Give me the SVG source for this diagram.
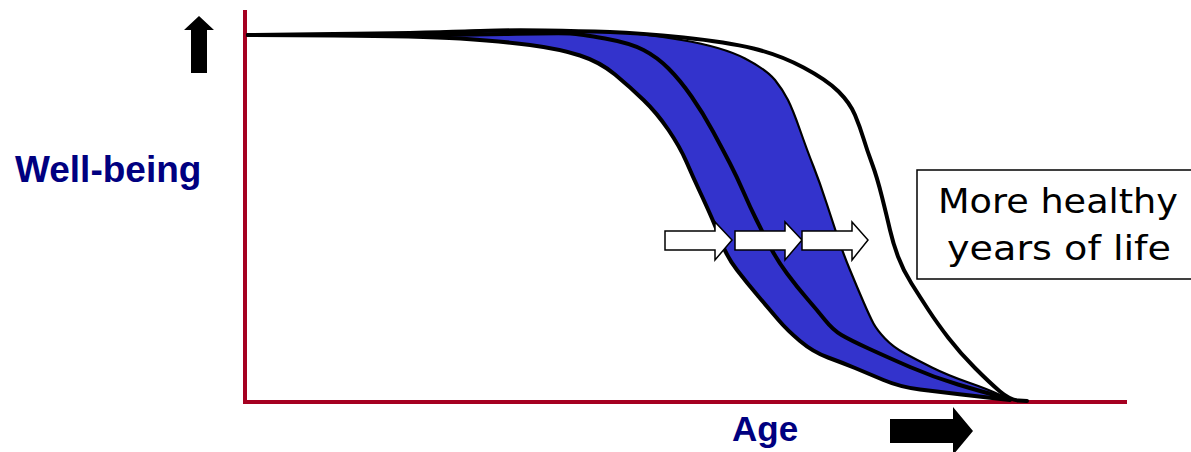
<svg xmlns="http://www.w3.org/2000/svg" width="1191" height="452" viewBox="0 0 1191 452">
<style>
.axis{stroke:#a50021;stroke-width:4;fill:none}
.curve{fill:none;stroke:#000;stroke-width:4;stroke-linejoin:round;stroke-linecap:round}
.thin{fill:none;stroke:#000;stroke-width:2.2;stroke-linejoin:round}
.band{fill:#3333cc;stroke:none}
.warrow{fill:#fff;stroke:#000;stroke-width:1.5;stroke-linejoin:miter}
.barrow{fill:#000;stroke:none}
.lbl{font-family:"Liberation Sans",Arial,sans-serif;font-weight:bold;fill:#000080}
.box{fill:#fff;stroke:#000;stroke-width:1.5}
.boxt{font-family:"DejaVu Sans",Verdana,sans-serif;font-size:33px;fill:#000}
</style>
<rect width="1191" height="452" fill="#fff"/>
<g id="axes">
<line class="axis" x1="245" y1="10" x2="245" y2="404"/>
<line class="axis" x1="243" y1="402" x2="1127" y2="402"/>
</g>
<g id="band">
<path class="band" d="M248,35 L334,35.5 Q420,36 460,38.5 Q500,41 530,45 Q560,49 580,55.5 Q600,62 615,74.5 Q630,87 643.5,100 Q657,113 668.5,130 Q680,147 686.5,162 Q693,177 700,192 Q707,207 712,218.5 Q717,230 722,243.5 Q727,257 737,270 Q747,283 758.5,296.5 Q770,310 778.5,320 Q787,330 800,341 Q813,352 828,357.5 Q843,363 855,368 Q867,373 883.5,380 Q900,387 920,389.5 Q940,392 961.5,394.5 Q983,397 996.5,398.5 L1010,400 L1000,395 Q990,390 968.5,382.5 Q947,375 932,367.5 Q917,360 905,353.5 Q893,347 885,338.5 Q877,330 873.5,323.5 Q870,317 863.5,302 Q857,287 850,270 Q843,253 838,238 Q833,223 826.5,203 Q820,183 813.5,166.5 Q807,150 800,130 Q793,110 788,100 Q783,90 775,80 Q767,70 745,58.5 Q723,47 681.5,40 Q640,33 610,32 Q580,31 545,30 Q510,29 465,31 Q420,33 334,34 L248,35 Z"/>
</g>
<g id="curves">
<path id="c-left" class="curve" d="M248,35 L334,35.5 Q420,36 460,38.5 Q500,41 530,45 Q560,49 580,55.5 Q600,62 615,74.5 Q630,87 643.5,100 Q657,113 668.5,130 Q680,147 686.5,162 Q693,177 700,192 Q707,207 712,218.5 Q717,230 722,243.5 Q727,257 737,270 Q747,283 758.5,296.5 Q770,310 778.5,320 Q787,330 800,341 Q813,352 828,357.5 Q843,363 855,368 Q867,373 883.5,380 Q900,387 920,389.5 Q940,392 961.5,394.5 Q983,397 996.5,398.5 L1010,400"/>
<path id="c-mid" class="curve" d="M248,35 L349,35 Q450,35 505,34 Q560,33 570,33.5 Q580,34 605,38.5 Q630,43 643.5,50 Q657,57 668.5,68.5 Q680,80 691.5,96.5 Q703,113 713,131.5 Q723,150 730,163.5 Q737,177 743.5,192 Q750,207 756.5,220 Q763,233 770,246.5 Q777,260 787,273.5 Q797,287 807,298.5 Q817,310 825,320 Q833,330 841.5,335 Q850,340 868.5,348.5 Q887,357 910,367 Q933,377 958,384.5 Q983,392 996.5,395.5 L1010,399"/>
<path id="c-blue" class="thin" d="M248,35 L334,34 Q420,33 465,31 Q510,29 545,30 Q580,31 610,32 Q640,33 681.5,40 Q723,47 745,58.5 Q767,70 775,80 Q783,90 788,100 Q793,110 800,130 Q807,150 813.5,166.5 Q820,183 826.5,203 Q833,223 838,238 Q843,253 850,270 Q857,287 863.5,302 Q870,317 873.5,323.5 Q877,330 885,338.5 Q893,347 905,353.5 Q917,360 932,367.5 Q947,375 968.5,382.5 Q990,390 1000,395 L1010,400"/>
<path id="c-outer" class="curve" d="M248,35 L334,34 Q420,33 465,31.5 Q510,30 545,30.5 Q580,31 610,32 Q640,33 683.5,37.5 Q727,42 753.5,48.5 Q780,55 803.5,67.5 Q827,80 838.5,91.5 Q850,103 855,115 Q860,127 863.5,138.5 Q867,150 872,163.5 Q877,177 882,197 Q887,217 890,230 Q893,243 898,256.5 Q903,270 911.5,283.5 Q920,297 928.5,310 Q937,323 948.5,338 Q960,353 975,368 Q990,383 1000,391.5 Q1010,400 1018.5,400.5 L1027,401"/>
</g>
<g id="shift-arrows">
<path class="warrow" d="M665,231 L715,231 L715,222 L732,240 L715,260 L715,250 L665,250 Z"/>
<path class="warrow" d="M735,231 L785,231 L785,222 L802,240 L785,260 L785,250 L735,250 Z"/>
<path class="warrow" d="M802,231 L852,231 L852,222 L868,240 L852,260 L852,250 L802,250 Z"/>
</g>
<g id="up-arrow">
<path class="barrow" d="M191,73 L207,73 L207,30 L214,30 L199,16 L184,30 L191,30 Z"/>
</g>
<g id="right-arrow">
<path class="barrow" d="M890,419 L953,419 L953,407 L973,431 L953,455 L953,443 L890,443 Z"/>
</g>
<g id="ylabel"><text class="lbl" x="15" y="182" font-size="37">Well-being</text></g>
<g id="xlabel"><text class="lbl" x="732" y="441" font-size="35">Age</text></g>
<g id="note">
<rect class="box" x="917" y="170" width="280" height="109"/>
<text class="boxt" x="938" y="213" textLength="240" lengthAdjust="spacingAndGlyphs">More healthy</text>
<text class="boxt" x="947" y="260" textLength="224" lengthAdjust="spacingAndGlyphs">years of life</text>
</g>
</svg>
